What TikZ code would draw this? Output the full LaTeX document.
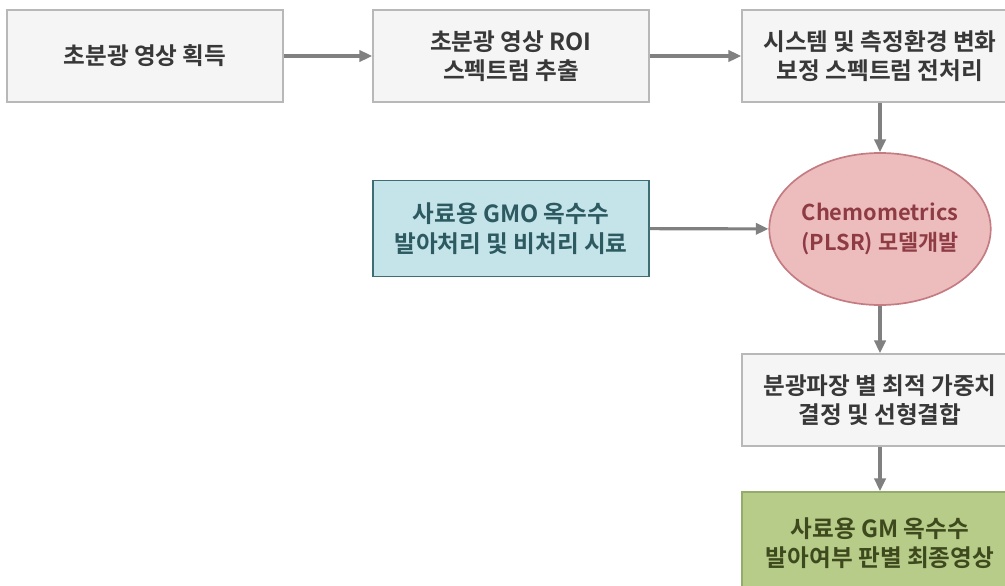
\documentclass[tikz,border=0pt]{standalone}
\usepackage{fontspec}
\setmainfont{Noto Sans CJK KR}[BoldFont={Noto Sans CJK KR Bold}]
\usetikzlibrary{shapes.geometric,arrows.meta}

\definecolor{boxfill}{HTML}{F5F5F5}
\definecolor{boxline}{HTML}{B8B8B8}
\definecolor{arrowgray}{HTML}{808080}
\definecolor{textgray}{HTML}{383838}
\definecolor{bluefill}{HTML}{C4E4EA}
\definecolor{blueline}{HTML}{3D6E73}
\definecolor{bluetext}{HTML}{2C5A60}
\definecolor{pinkfill}{HTML}{EDBDBE}
\definecolor{pinkline}{HTML}{C47C82}
\definecolor{pinktext}{HTML}{8E3B44}
\definecolor{greenfill}{HTML}{B6CC88}
\definecolor{greenline}{HTML}{93AC6B}
\definecolor{greentext}{HTML}{3E4A1E}

\begin{document}
\begin{tikzpicture}[x=0.025cm,y=-0.025cm,
	stepbox/.style={draw=boxline,fill=boxfill,line width=1.2pt,minimum width=6.9cm,minimum height=2.3cm,
		align=center,text=textgray,font=\fontsize{16.8}{21}\selectfont\bfseries,inner sep=0pt},
	flow/.style={draw=arrowgray,line width=2.2pt,-{Triangle[length=9pt,width=8pt]}}]

	\useasboundingbox (0,0) rectangle (1005,585);

	\node[stepbox] (capture) at (145,56) {초분광 영상 획득};
	\node[stepbox] (roi) at (511,56) {초분광 영상 ROI\\스펙트럼 추출};
	\node[stepbox] (prep) at (880,56) {시스템 및 측정환경 변화\\보정 스펙트럼 전처리};
	\node[stepbox,draw=blueline,fill=bluefill,text=bluetext,minimum height=2.4cm] (sample) at (511,228.5) {사료용 GMO 옥수수\\발아처리 및 비처리 시료};
	\node[ellipse,draw=pinkline,fill=pinkfill,line width=1.2pt,minimum width=5.35cm,minimum height=3.8cm,
		align=center,text=pinktext,font=\fontsize{15.5}{21}\selectfont\bfseries,inner sep=0pt] (plsr) at (880,229) {Chemometrics\\(PLSR) 모델개발};
	\node[stepbox] (weight) at (880,400) {분광파장 별 최적 가중치\\결정 및 선형결합};
	\node[stepbox,draw=greenline,fill=greenfill,text=greentext,minimum height=2.55cm] (result) at (880,543) {사료용 GM 옥수수\\발아여부 판별 최종영상};

	\draw[flow] (capture) -- (roi);
	\draw[flow] (roi) -- (prep);
	\draw[flow] (prep) -- (plsr);
	\draw[flow] (sample) -- (plsr);
	\draw[flow] (plsr) -- (weight);
	\draw[flow] (weight) -- (result);

\end{tikzpicture}
\end{document}
